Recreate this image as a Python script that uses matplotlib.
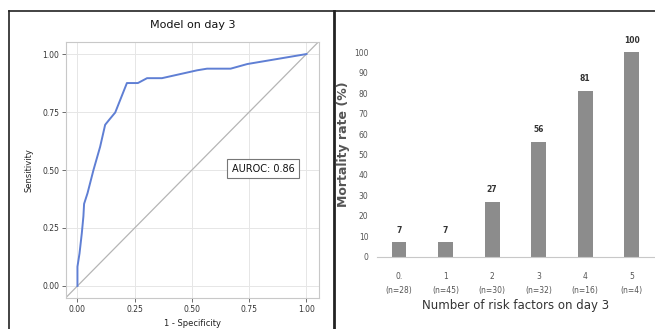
import matplotlib
matplotlib.use("Agg")
import matplotlib.pyplot as plt
from matplotlib.lines import Line2D
import numpy as np

# ROC curve of the day-3 model
fpr = [0.0, 0.0, 0.009, 0.019, 0.026, 0.029, 0.044, 0.070, 0.099, 0.121, 0.139,
       0.165, 0.216, 0.264, 0.304, 0.369, 0.523, 0.566, 0.669, 0.742, 1.0]
tpr = [0.0, 0.083, 0.14, 0.227, 0.30, 0.354, 0.40, 0.50, 0.60, 0.695, 0.717,
       0.748, 0.875, 0.875, 0.896, 0.896, 0.93, 0.937, 0.937, 0.957, 1.0]
auroc_text = "AUROC: 0.86"
roc_ticks = [0.0, 0.25, 0.5, 0.75, 1.0]

# Mortality by number of risk factors on day 3
risk_counts = ["0.", "1", "2", "3", "4", "5"]
group_sizes = ["(n=28)", "(n=45)", "(n=30)", "(n=32)", "(n=16)", "(n=4)"]
mortality = [7, 7, 27, 56, 81, 100]

W, H = 655, 329
fig = plt.figure(figsize=(W / 100, H / 100), dpi=100)
fig.patch.set_facecolor("white")

def fx(px):
    return px / W

def fy(py):
    return 1 - py / H

# ---- left panel: ROC curve ----
ax1 = fig.add_axes([fx(66), fy(298), fx(319 - 66), (298 - 42) / H])
ax1.set_xlim(-0.05, 1.055)
ax1.set_ylim(-0.052, 1.052)
ax1.grid(True, color="#e6e6e6", linewidth=0.7)
ax1.set_axisbelow(True)
ax1.axline((0, 0), (1, 1), color="#b5b5b5", linewidth=0.9, zorder=1)
ax1.plot(fpr, tpr, color="#5f7fd4", linewidth=1.4, zorder=3)
ax1.set_xticks(roc_ticks)
ax1.set_yticks(roc_ticks)
ax1.set_xticklabels([f"{t:.2f}" for t in roc_ticks])
ax1.set_yticklabels([f"{t:.2f}" for t in roc_ticks])
ax1.tick_params(labelsize=5.5, colors="#555555", length=3, width=0.6,
                labelcolor="#333333", pad=2)
for s in ax1.spines.values():
    s.set_color("#c8c8c8")
    s.set_linewidth(0.8)
ax1.set_title("Model on day 3", fontsize=8, color="#111111", pad=10)
ax1.set_xlabel("1 - Specificity", fontsize=6, color="#222222", labelpad=4)
ax1.set_ylabel("Sensitivity", fontsize=6, color="#222222", labelpad=6)
ax1.text(0.81, 0.505, auroc_text, fontsize=7, color="#111111",
         ha="center", va="center",
         bbox=dict(boxstyle="square,pad=0.45", fc="white", ec="#777777", lw=0.8))

# ---- right panel: mortality bar chart ----
ax2 = fig.add_axes([fx(376.7), fy(256.7), 1 - fx(376.7), (256.7 - 31.9) / H])
x = np.arange(len(mortality))
ax2.bar(x, mortality, width=0.32, color="#8c8c8c", zorder=2)
ax2.set_xlim(-0.48, 5.5)
ax2.set_ylim(0, 110)
ax2.set_yticks(range(0, 101, 10))
ax2.tick_params(axis="y", length=0, labelsize=5.5, labelcolor="#555555", pad=6)
ax2.set_xticks(x)
ax2.set_xticklabels([f"{a}\n{b}" for a, b in zip(risk_counts, group_sizes)],
                    fontsize=5.5, color="#555555", linespacing=1.7)
ax2.tick_params(axis="x", length=0, pad=11)
for name in ["top", "right", "left"]:
    ax2.spines[name].set_visible(False)
ax2.spines["bottom"].set_color("#c8c8c8")
ax2.spines["bottom"].set_linewidth(0.8)
for xi, v in zip(x, mortality):
    ax2.text(xi, v + 6, str(v), ha="center", va="center", fontsize=5.5,
             fontweight="bold", color="#333333")
ax2.set_ylabel("Mortality rate (%)", fontsize=9, fontweight="bold",
               color="#555555", labelpad=3)
ax2.set_xlabel("Number of risk factors on day 3", fontsize=8.5,
               color="#333333", labelpad=3)

# ---- panel frame lines ----
frame_kw = dict(transform=fig.transFigure, color="#222222", linewidth=1.2)
fig.add_artist(Line2D([fx(9), fx(9)], [fy(11), 0], **frame_kw))
fig.add_artist(Line2D([fx(9), 1], [fy(11), fy(11)], **frame_kw))
fig.add_artist(Line2D([fx(333.5), fx(333.5)], [fy(11), 0],
                      transform=fig.transFigure, color="#222222", linewidth=2.0))

fig.savefig("out.png", dpi=100)
